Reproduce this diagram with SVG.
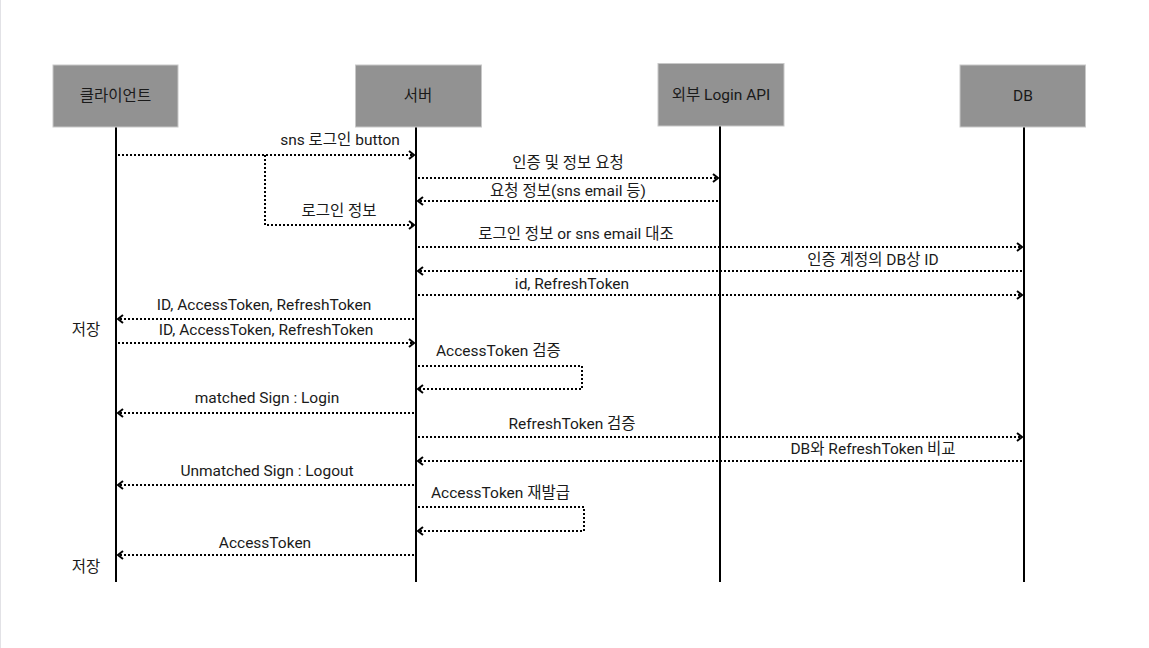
<svg xmlns="http://www.w3.org/2000/svg" width="1149" height="648" viewBox="0 0 1149 648">
<style>
text{font-family:Roboto,"Noto Sans CJK KR",sans-serif;font-size:15.5px;fill:#1a1a1a;text-anchor:middle}
.st{text-anchor:start}
.box{fill:#929292;stroke:#c8c8c8;stroke-width:1}
.life{stroke:#000;stroke-width:2}
.msg{fill:none;stroke:#000;stroke-width:2;stroke-dasharray:2 2}
.arr{marker-end:url(#arr)}
</style>
<defs>
<marker id="arr" viewBox="0 0 8 10" refX="7" refY="5" markerWidth="8" markerHeight="10" markerUnits="userSpaceOnUse" orient="auto">
<path d="M2,1 L7,5 L2,9" fill="none" stroke="#000" stroke-width="2"/>
</marker>
</defs>
<rect x="0" y="0" width="1149" height="648" fill="#fff"/>
<line x1="0.5" y1="0" x2="0.5" y2="648" stroke="#e2e2e6" stroke-width="1"/>
<g id="lifelines">
<line class="life" x1="116" y1="127" x2="116" y2="582"/>
<line class="life" x1="416" y1="127" x2="416" y2="582"/>
<line class="life" x1="720" y1="126" x2="720" y2="582"/>
<line class="life" x1="1024" y1="127" x2="1024" y2="582"/>
</g>
<g id="node-client"><rect class="box" x="53" y="65" width="125" height="62"/><text x="115.5" y="101">클라이언트</text></g>
<g id="node-server"><rect class="box" x="355.5" y="65" width="126" height="62"/><text x="418" y="101">서버</text></g>
<g id="node-api"><rect class="box" x="658" y="63.5" width="126" height="62.5"/><text x="721" y="100">외부 Login API</text></g>
<g id="node-db"><rect class="box" x="960" y="65" width="125.5" height="62"/><text x="1023" y="101">DB</text></g>
<g id="connectors">
<path class="msg arr" d="M118,155 H414"/>
<path class="msg arr" d="M265,155 V225 H414"/>
<path class="msg arr" d="M418,178 H718"/>
<path class="msg arr" d="M718,201 H418"/>
<path class="msg arr" d="M418,247 H1022"/>
<path class="msg arr" d="M1022,271 H418"/>
<path class="msg arr" d="M418,295 H1022"/>
<path class="msg arr" d="M414,319 H118"/>
<path class="msg arr" d="M118,343 H414"/>
<path class="msg arr" d="M418,366 H582 V389 H418"/>
<path class="msg arr" d="M414,413 H118"/>
<path class="msg arr" d="M418,437 H1022"/>
<path class="msg arr" d="M1022,461 H418"/>
<path class="msg arr" d="M414,485 H118"/>
<path class="msg arr" d="M418,507 H584 V531 H418"/>
<path class="msg arr" d="M414,555 H118"/>
</g>
<g id="labels">
<text x="340" y="145">sns 로그인 button</text>
<text x="568" y="168">인증 및 정보 요청</text>
<text x="568" y="196">요청 정보(sns email 등)</text>
<text x="339" y="216">로그인 정보</text>
<text x="576" y="239">로그인 정보 or sns email 대조</text>
<text x="873" y="265">인증 계정의 DB상 ID</text>
<text x="572" y="289">id, RefreshToken</text>
<text x="264" y="310">ID, AccessToken, RefreshToken</text>
<text x="86" y="335">저장</text>
<text x="266" y="335">ID, AccessToken, RefreshToken</text>
<text class="st" x="436" y="356">AccessToken 검증</text>
<text x="267" y="403">matched Sign : Login</text>
<text x="572" y="429">RefreshToken 검증</text>
<text x="873" y="454">DB와 RefreshToken 비교</text>
<text x="267" y="476">Unmatched Sign : Logout</text>
<text class="st" x="431" y="498">AccessToken 재발급</text>
<text x="265" y="548">AccessToken</text>
<text x="86" y="572">저장</text>
</g>
</svg>
